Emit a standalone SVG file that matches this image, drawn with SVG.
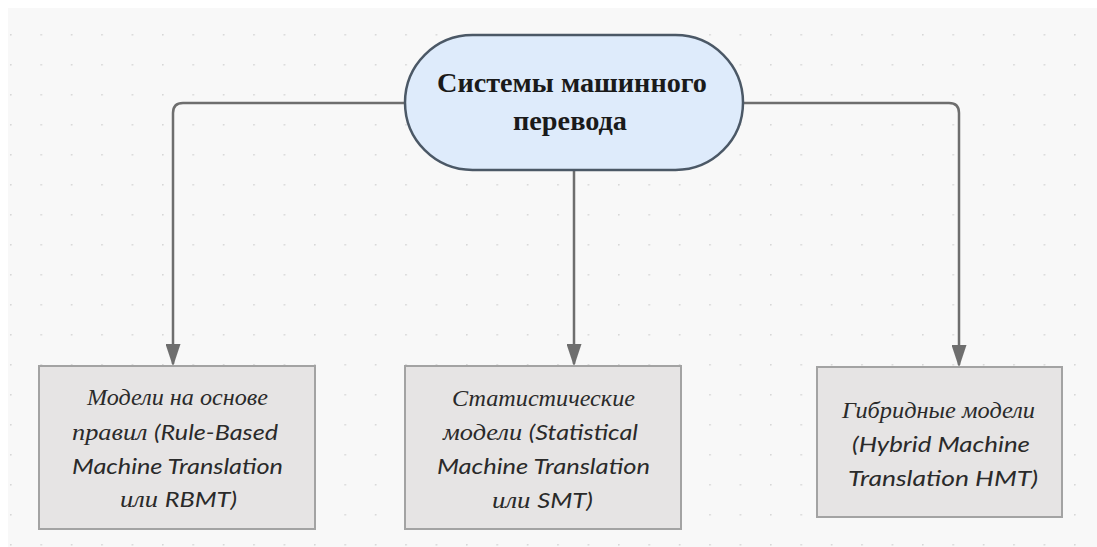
<svg xmlns="http://www.w3.org/2000/svg" width="1097" height="547" viewBox="0 0 1097 547">
  <defs>
    <pattern id="dots" x="10" y="4" width="30.4" height="30" patternUnits="userSpaceOnUse">
      <circle cx="0.8" cy="0.8" r="0.9" fill="#d6d6d6"/>
    </pattern>
    <marker id="arrow" markerWidth="9" markerHeight="6" refX="8" refY="3" orient="auto" markerUnits="strokeWidth">
      <path d="M0,0 L9,3 L0,6 Z" fill="#6e6e6e"/>
    </marker>
    <style>
      .conn { fill: none; stroke: #6e6e6e; stroke-width: 2.5; }
      .box { fill: #e6e4e4; stroke: #a3a3a3; stroke-width: 2; }
      .root { fill: #deebfb; stroke: #4b5866; stroke-width: 2.5; }
      .rt { font-family: "Liberation Serif", "Times New Roman", serif; font-weight: bold; font-size: 27px; fill: #1a1a1a; text-anchor: middle; }
      .lb { font-size: 22px; fill: #2a2a2a; text-anchor: middle; font-style: italic; }
      .cy { font-family: "Liberation Serif", "Times New Roman", serif; font-size: 23px; }
      .la { font-family: Lato, "Liberation Sans", sans-serif; font-size: 22px; }
    </style>
  </defs>
  <rect x="0" y="0" width="1097" height="547" fill="#ffffff"/>
  <rect x="8" y="8" width="1089" height="539" fill="#f8f8f8"/>
  <rect x="8" y="8" width="1089" height="539" fill="url(#dots)"/>

  <g id="connectors">
    <path class="conn" d="M405,103 L183,103 Q173,103 173,113 L173,364" marker-end="url(#arrow)"/>
    <path class="conn" d="M574,170 L574,364" marker-end="url(#arrow)"/>
    <path class="conn" d="M743,103 L949,103 Q959,103 959,113 L959,365" marker-end="url(#arrow)"/>
  </g>

  <g id="root">
    <rect class="root" x="405" y="35" width="338" height="135" rx="67.5" ry="67.5"/>
    <text class="rt" x="572" y="92" textLength="270" lengthAdjust="spacingAndGlyphs">Системы машинного</text>
    <text class="rt" x="570" y="130" textLength="114" lengthAdjust="spacingAndGlyphs">перевода</text>
  </g>

  <g id="rbmt">
    <rect class="box" x="39" y="366" width="276" height="163"/>
    <text class="lb" x="177.5" y="405" textLength="181" lengthAdjust="spacingAndGlyphs"><tspan class="cy">Модели на основе</tspan></text>
    <text class="lb" x="175" y="440" textLength="206" lengthAdjust="spacingAndGlyphs"><tspan class="cy">правил </tspan><tspan class="la">(Rule-Based</tspan></text>
    <text class="lb" x="177.5" y="474" textLength="211" lengthAdjust="spacingAndGlyphs"><tspan class="la">Machine Translation</tspan></text>
    <text class="lb" x="178.5" y="507" textLength="117" lengthAdjust="spacingAndGlyphs"><tspan class="cy">или </tspan><tspan class="la">RBMT)</tspan></text>
  </g>

  <g id="smt">
    <rect class="box" x="405" y="366" width="276" height="163"/>
    <text class="lb" x="543.5" y="406" textLength="183" lengthAdjust="spacingAndGlyphs"><tspan class="cy">Статистические</tspan></text>
    <text class="lb" x="540.5" y="440" textLength="195" lengthAdjust="spacingAndGlyphs"><tspan class="cy">модели </tspan><tspan class="la">(Statistical</tspan></text>
    <text class="lb" x="543.5" y="474" textLength="213" lengthAdjust="spacingAndGlyphs"><tspan class="la">Machine Translation</tspan></text>
    <text class="lb" x="542.5" y="508" textLength="101" lengthAdjust="spacingAndGlyphs"><tspan class="cy">или </tspan><tspan class="la">SMT)</tspan></text>
  </g>

  <g id="hmt">
    <rect class="box" x="817" y="367" width="245" height="150"/>
    <text class="lb" x="938.5" y="418" textLength="193" lengthAdjust="spacingAndGlyphs"><tspan class="cy">Гибридные модели</tspan></text>
    <text class="lb" x="941" y="452" textLength="178" lengthAdjust="spacingAndGlyphs"><tspan class="la">(Hybrid Machine</tspan></text>
    <text class="lb" x="943" y="486" textLength="190" lengthAdjust="spacingAndGlyphs"><tspan class="la">Translation  HMT)</tspan></text>
  </g>
</svg>
